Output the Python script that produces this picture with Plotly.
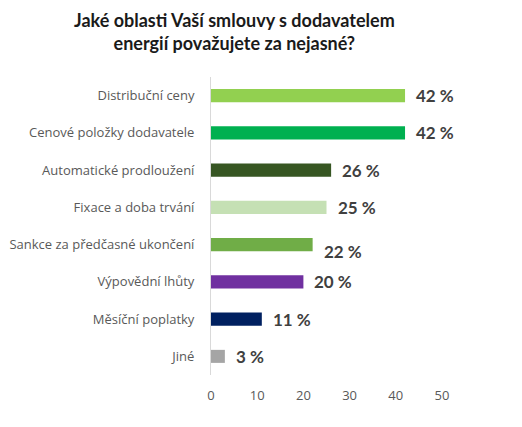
import plotly.graph_objects as go

categories = [
    "Distribuční ceny",
    "Cenové položky dodavatele",
    "Automatické prodloužení",
    "Fixace a doba trvání",
    "Sankce za předčasné ukončení",
    "Výpovědní lhůty",
    "Měsíční poplatky",
    "Jiné",
]
values = [42, 42, 26, 25, 22, 20, 11, 3]
labels = ["42 %", "42 %", "26 %", "25 %", "22 %", "20 %", "11 %", "3 %"]
colors = ["#92D050", "#00B050", "#375623", "#C5E0B4", "#70AD47", "#7030A0", "#002060", "#A5A5A5"]
tick_vals = [0, 10, 20, 30, 40, 50]

title_text = "Jaké oblasti Vaší smlouvy s dodavatelem<br>energií považujete za nejasné?"

fig = go.Figure(
    go.Bar(
        x=values,
        y=categories,
        orientation="h",
        marker=dict(color=colors, line=dict(width=0)),
        width=0.35,
        hoverinfo="skip",
    )
)

label_yshift = {"Sankce za předčasné ukončení": -7}
for c, v, t in zip(categories, values, labels):
    fig.add_annotation(
        x=v, y=c, text=t, showarrow=False, xanchor="left", xshift=9,
        yshift=label_yshift.get(c, 0),
        font=dict(family="Lato, 'Open Sans', sans-serif", size=17, color="#404040", weight="bold"),
    )

fig.add_annotation(
    text=title_text, xref="paper", yref="paper", x=(226 - 203) / 231, y=1,
    xanchor="center", yanchor="top", yshift=70, showarrow=False, align="center",
    font=dict(family="Lato, 'Open Sans', sans-serif", size=18, color="#1a1a1a", weight="bold"),
)

fig.update_layout(
    width=514,
    height=419,
    margin=dict(l=203, r=80, t=69, b=52, autoexpand=False),
    paper_bgcolor="white",
    plot_bgcolor="white",
    showlegend=False,
    xaxis=dict(
        range=[0, 50],
        tickvals=tick_vals,
        showgrid=False,
        zeroline=False,
        showline=False,
        ticks="",
        automargin=False,
        ticklabelstandoff=11,
        tickfont=dict(family="'Open Sans', sans-serif", size=13, color="#595959"),
        fixedrange=True,
    ),
    yaxis=dict(
        autorange="reversed",
        showgrid=False,
        zeroline=False,
        showline=True,
        linecolor="#D9D9D9",
        linewidth=1,
        ticks="",
        automargin=False,
        ticklabelstandoff=13,
        tickfont=dict(family="'Open Sans', sans-serif", size=13, color="#595959"),
        fixedrange=True,
    ),
)

fig.write_html("out.html")
